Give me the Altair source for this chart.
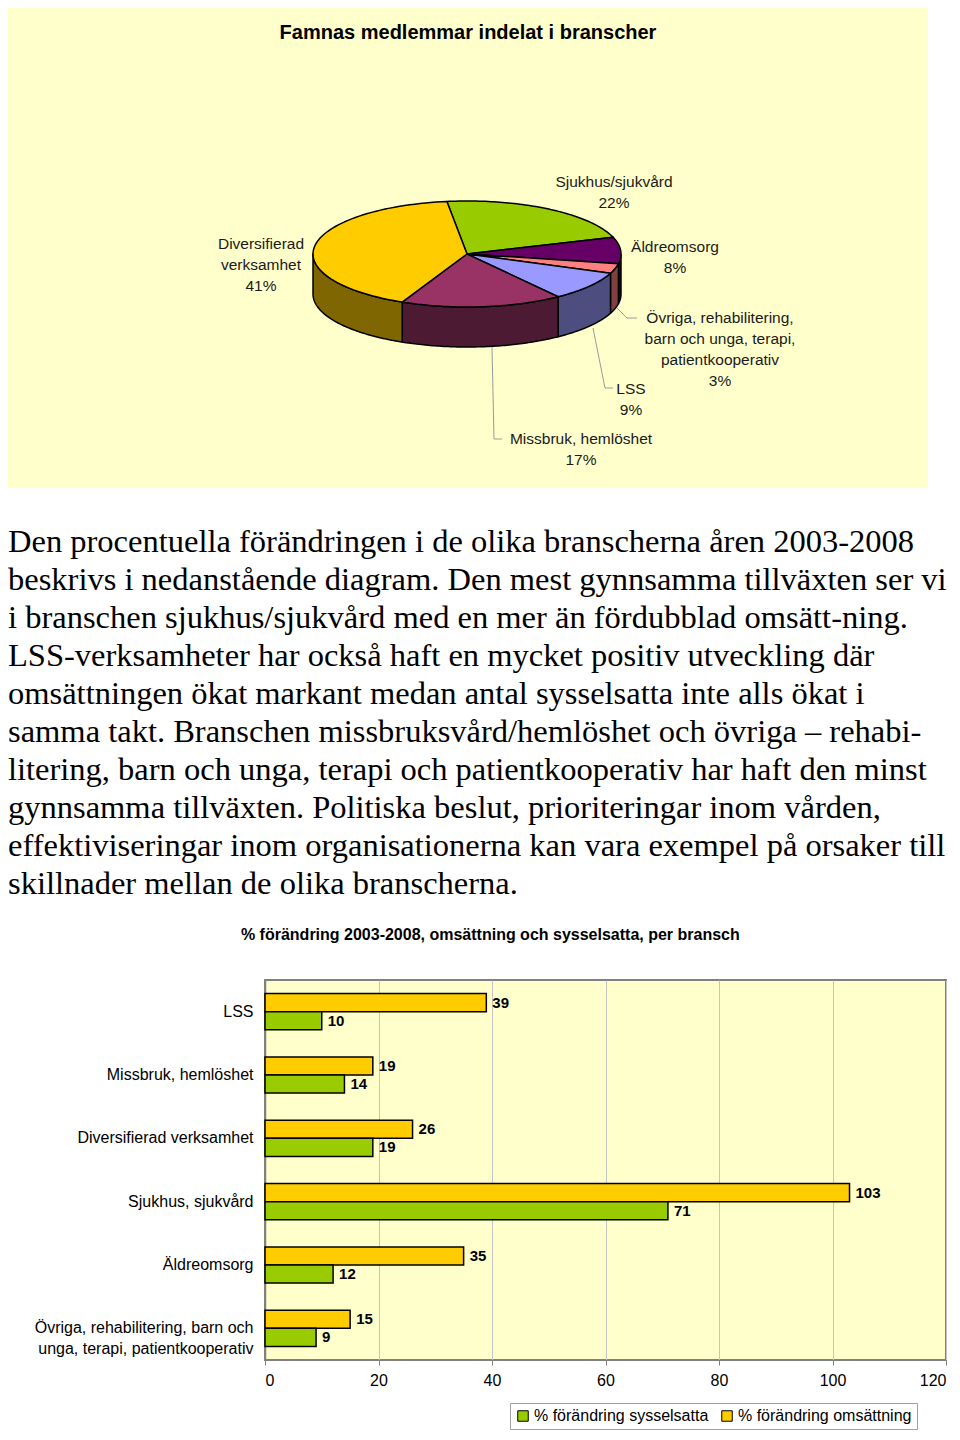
import altair as alt
import pandas as pd

# ------------------------------------------------------------------ data
pie_title = "Famnas medlemmar indelat i branscher"
pie_names = ["Sjukhus/sjukvård", "Äldreomsorg",
             "Övriga, rehabilitering,\nbarn och unga, terapi,\npatientkooperativ",
             "LSS", "Missbruk, hemlöshet", "Diversifierad\nverksamhet"]
pie_values = [22, 8, 3, 9, 17, 41]

paragraph = [
    "Den procentuella förändringen i de olika branscherna åren 2003-2008",
    "beskrivs i nedanstående diagram. Den mest gynnsamma tillväxten ser vi",
    "i branschen sjukhus/sjukvård med en mer än fördubblad omsätt-ning.",
    "LSS-verksamheter har också haft en mycket positiv utveckling där",
    "omsättningen ökat markant medan antal sysselsatta inte alls ökat i",
    "samma takt. Branschen missbruksvård/hemlöshet och övriga – rehabi-",
    "litering, barn och unga, terapi och patientkooperativ har haft den minst",
    "gynnsamma tillväxten. Politiska beslut, prioriteringar inom vården,",
    "effektiviseringar inom organisationerna kan vara exempel på orsaker till",
    "skillnader mellan de olika branscherna.",
]

bar_title = "% förändring 2003-2008, omsättning och sysselsatta, per bransch"
bar_categories = ["LSS", "Missbruk, hemlöshet", "Diversifierad verksamhet",
                  "Sjukhus, sjukvård", "Äldreomsorg",
                  "Övriga, rehabilitering, barn och|unga, terapi, patientkooperativ"]
series_syss = "% förändring sysselsatta"
series_oms = "% förändring omsättning"
oms_values = [39, 19, 26, 103, 35, 15]
syss_values = [10, 14, 19, 71, 12, 9]
x_ticks = [0, 20, 40, 60, 80, 100, 120]

# ------------------------------------------------------------------ styles / layout
pie_top_colors = ["#99CC00", "#660066", "#FF8080", "#9999FF", "#993366", "#FFCC00"]
pie_side_colors = ["#4D6600", "#330033", "#804040", "#4D4D80", "#4D1A33", "#806600"]
label_pos_x = [606, 667, 712, 623, 573, 253]
label_pos_y = [173.5, 238.5, 309.5, 380.5, 430.5, 235.5]
leader_segments = [  # x, y, x2, y2 (panel pixels)
    (609, 300, 619, 310), (619, 310, 629, 310),
    (585, 320, 597, 380), (597, 380, 605, 380),
    (484, 339, 486, 431), (486, 431, 494, 431),
]
OFF = 257                      # left extent of the bar chart's category axis
PW, PH = 920, 480
CX, CY, RX, RY, T = 459, 246, 154, 53, 40
START = -7.5
N = 72
BG = "#FFFFCC"
GREEN, YELLOW = "#99CC00", "#FFCC00"

# ------------------------------------------------------------------ pie panel
xs = alt.Scale(domain=[OFF, PW], nice=False, zero=False)
ys = alt.Scale(domain=[0, PH], nice=False, zero=False, reverse=True)

pie_df = pd.DataFrame({
    "name": pie_names, "value": pie_values,
    "top": pie_top_colors, "side": pie_side_colors,
    "idx": list(range(len(pie_names))),
})

base = alt.Chart(pie_df).transform_window(
    cum="sum(value)", sort=[alt.SortField("idx")], frame=[None, 0]
).transform_joinaggregate(total="sum(value)").transform_calculate(
    a0=f"{START} + 360*(datum.cum - datum.value)/datum.total",
    a1=f"{START} + 360*datum.cum/datum.total",
)

sides = base.transform_calculate(
    b0="max(datum.a0, 90)", b1="min(datum.a1, 270)"
).transform_filter("datum.b1 > datum.b0").transform_calculate(
    steps=f"sequence(0, {2 * N + 3})"
).transform_flatten(["steps"], as_=["s"]).transform_calculate(
    k=f"datum.s <= {N} ? datum.s : (datum.s <= {2 * N + 1} ? {2 * N + 1} - datum.s : 0)",
    low=f"(datum.s > {N} && datum.s <= {2 * N + 1}) ? {T} : 0",
).transform_calculate(
    ang=f"(datum.b0 + (datum.b1 - datum.b0) * datum.k / {N}) * PI / 180"
).transform_calculate(
    px=f"{CX} + {RX} * sin(datum.ang)",
    py=f"{CY} - {RY} * cos(datum.ang) + datum.low",
).mark_line(stroke="black", strokeWidth=1.5, strokeJoin="round").encode(
    x=alt.X("px:Q", scale=xs, axis=None),
    y=alt.Y("py:Q", scale=ys, axis=None),
    order=alt.Order("s:Q"),
    detail="name:N",
    fill=alt.Fill("side:N", scale=None),
)

tops = base.transform_calculate(
    steps=f"sequence(0, {N + 3})"
).transform_flatten(["steps"], as_=["s"]).transform_calculate(
    ang=f"(datum.a0 + (datum.a1 - datum.a0) * (datum.s - 1) / {N}) * PI / 180",
    ctr=f"(datum.s == 0 || datum.s == {N + 2}) ? 1 : 0",
).transform_calculate(
    px=f"datum.ctr == 1 ? {CX} : {CX} + {RX} * sin(datum.ang)",
    py=f"datum.ctr == 1 ? {CY} : {CY} - {RY} * cos(datum.ang)",
).mark_line(stroke="black", strokeWidth=1.5, strokeJoin="round").encode(
    x=alt.X("px:Q", scale=xs, axis=None),
    y=alt.Y("py:Q", scale=ys, axis=None),
    order=alt.Order("s:Q"),
    detail="name:N",
    fill=alt.Fill("top:N", scale=None),
)

lab_df = pd.DataFrame({
    "txt": [f"{n}\n{v}%" for n, v in zip(pie_names, pie_values)],
    "lx": label_pos_x, "ly": label_pos_y,
})
pie_labels = alt.Chart(lab_df).mark_text(
    font="Liberation Sans", fontSize=15.5, color="#1a1a1a", align="center",
    baseline="middle", lineBreak="\n", lineHeight=21.3,
).encode(x=alt.X("lx:Q", scale=xs, axis=None), y=alt.Y("ly:Q", scale=ys, axis=None), text="txt:N")

seg_df = pd.DataFrame(leader_segments, columns=["x1", "y1", "x2", "y2"])
leaders = alt.Chart(seg_df).mark_rule(color="#9a9a9a", strokeWidth=1).encode(
    x=alt.X("x1:Q", scale=xs, axis=None), y=alt.Y("y1:Q", scale=ys, axis=None),
    x2="x2:Q", y2="y2:Q",
)

ttl = alt.Chart(pd.DataFrame({"t": [pie_title]})).mark_text(
    font="Liberation Sans", fontSize=20, fontWeight="bold", color="black",
    align="center", baseline="middle",
).encode(x=alt.value(PW / 2 - OFF), y=alt.value(25), text="t:N")

panel_bg = alt.Chart(pd.DataFrame({"k": [0]})).mark_rect(fill=BG).encode(
    x=alt.value(-OFF), x2=alt.value(PW - OFF), y=alt.value(0), y2=alt.value(PH)
)

pie_panel = alt.layer(panel_bg, sides, tops, leaders, pie_labels, ttl).properties(
    width=PW - OFF, height=PH, view=alt.ViewBackground(fill=None, stroke=None)
)

# ------------------------------------------------------------------ paragraph
TH = 438
para_df = pd.DataFrame({"line": paragraph, "i": list(range(len(paragraph)))})
para = alt.Chart(para_df).mark_text(
    font="Liberation Serif", fontSize=32.5, color="black", align="left", baseline="middle",
).encode(
    x=alt.value(-OFF),
    y=alt.Y("i:Q", axis=None,
            scale=alt.Scale(domain=[-54 / 38, (TH - 54) / 38], reverse=True, nice=False, zero=False)),
    text="line:N",
).properties(width=PW - OFF, height=TH, view=alt.ViewBackground(fill=None, stroke=None))

# ------------------------------------------------------------------ bar chart
rows = []
for c, o, s in zip(bar_categories, oms_values, syss_values):
    rows.append({"cat": c, "series": series_oms, "value": o})
    rows.append({"cat": c, "series": series_syss, "value": s})
bar_df = pd.DataFrame(rows)

y_enc = alt.Y("cat:N", sort=bar_categories,
              scale=alt.Scale(paddingInner=0.43, paddingOuter=0.215),
              axis=alt.Axis(title=None, labelExpr="split(datum.label, '|')",
                            labelFont="Liberation Sans", labelFontSize=16, labelColor="black",
                            labelLineHeight=21, labelPadding=12, ticks=False,
                            domainColor="#808080", domainWidth=1.5, labelLimit=400))
yoff = alt.YOffset("series:N", sort=[series_oms, series_syss])
x_enc = alt.X("value:Q", scale=alt.Scale(domain=[0, 120], nice=False),
              axis=alt.Axis(title=None, values=x_ticks, labelFont="Liberation Sans",
                            labelFontSize=16, labelColor="black", labelPadding=7,
                            tickSize=5, tickColor="#808080", domainColor="#808080",
                            grid=True, gridColor="#C4C4C4", gridWidth=1))

bars = alt.Chart(bar_df).mark_bar(stroke="black", strokeWidth=1.5).encode(
    y=y_enc, yOffset=yoff, x=x_enc,
    color=alt.Color("series:N", scale=alt.Scale(domain=[series_syss, series_oms], range=[GREEN, YELLOW]),
                    legend=alt.Legend(title=None, orient="none", legendX=245, legendY=1395,
                                      direction="horizontal", symbolType="square", symbolSize=110,
                                      symbolStrokeColor="black", symbolStrokeWidth=1,
                                      labelFont="Liberation Sans", labelFontSize=16, labelColor="black",
                                      strokeColor="#A0A0A0", padding=5, columnPadding=10,
                                      labelOffset=3, labelLimit=300)),
)
bar_labels = alt.Chart(bar_df).mark_text(
    align="left", baseline="middle", dx=6, font="Liberation Sans", fontSize=15,
    fontWeight="bold", color="black",
).encode(y=alt.Y("cat:N", sort=bar_categories), yOffset=yoff, x="value:Q", text="value:Q")

bar_chart = alt.layer(bars, bar_labels).properties(
    width=681, height=380,
    title=alt.TitleParams(bar_title, font="Liberation Sans", fontSize=16, fontWeight="bold",
                          color="black", anchor="middle", frame="bounds", offset=37),
    view=alt.ViewBackground(fill=BG, stroke="#808080", strokeWidth=2),
)

chart = alt.vconcat(pie_panel, para, bar_chart, spacing=0).properties(
    padding=0
).configure_view(stroke=None)

chart.save("out.html", embed_options={"renderer": "svg", "actions": False})
